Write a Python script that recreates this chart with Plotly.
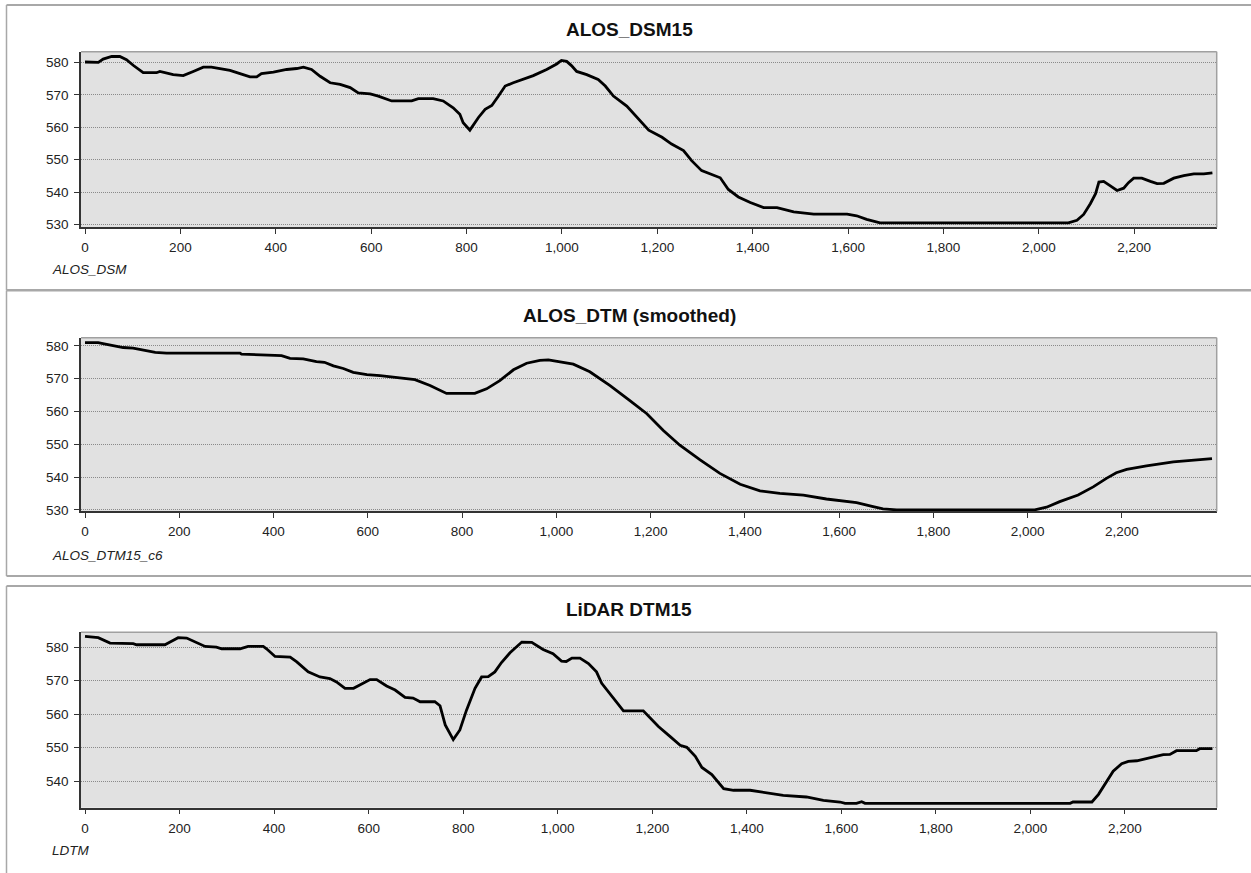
import plotly.graph_objects as go

W, H = 1251, 873

# ---------------- data ----------------
dsm_x = [0, 28, 38, 56, 73, 87, 101, 122, 150, 157, 185, 206, 227, 248, 265, 283, 304, 325, 346, 360,
         370, 395, 423, 444, 458, 475, 493, 514, 535, 556, 573, 598, 615, 643, 685, 699, 730, 751, 772,
         786, 793, 807, 825, 839, 853, 867, 881, 898, 919, 940, 968, 989, 999, 1010, 1020, 1031, 1052,
         1076, 1091, 1108, 1136, 1154, 1182, 1210, 1230, 1255, 1272, 1293, 1311, 1332, 1349, 1370, 1395,
         1423, 1451, 1486, 1528, 1598, 1618, 1639, 1667, 2062, 2080, 2094, 2108, 2119, 2126, 2136, 2150,
         2164, 2178, 2188, 2199, 2216, 2234, 2248, 2262, 2283, 2304, 2325, 2346, 2364]
dsm_y = [580.1, 580.0, 581.0, 581.8, 581.8, 580.8, 579.1, 576.8, 576.8, 577.2, 576.2, 575.9, 577.2, 578.5,
         578.5, 578.1, 577.5, 576.5, 575.5, 575.5, 576.5, 577.0, 577.8, 578.1, 578.5, 577.8, 575.7, 573.7,
         573.2, 572.2, 570.6, 570.3, 569.6, 568.1, 568.1, 568.8, 568.8, 568.1, 566.0, 564.0, 561.4, 559.1,
         563.0, 565.5, 566.7, 569.6, 572.7, 573.7, 574.7, 575.9, 577.8, 579.5, 580.6, 580.3, 579.0, 577.2,
         576.2, 574.7, 572.7, 569.6, 566.5, 563.5, 559.1, 556.9, 554.8, 552.8, 549.7, 546.6, 545.6, 544.4,
         540.8, 538.5, 536.8, 535.2, 535.2, 533.9, 533.2, 533.2, 532.7, 531.6, 530.5, 530.5, 531.3, 533.1,
         536.4, 539.5, 543.1, 543.3, 541.9, 540.5, 541.2, 542.9, 544.3, 544.3, 543.3, 542.6, 542.7, 544.3,
         545.1, 545.6, 545.6, 545.9]

dtm_x = [0, 28, 38, 60, 81, 102, 124, 149, 173, 329, 332, 371, 417, 435, 463, 491, 508, 527, 548, 569,
         598, 626, 661, 682, 700, 732, 767, 827, 852, 880, 909, 937, 965, 983, 1015, 1036, 1071, 1114,
         1156, 1192, 1227, 1262, 1305, 1347, 1390, 1432, 1474, 1524, 1573, 1602, 1637, 1672, 1693, 1722,
         2015, 2040, 2068, 2107, 2139, 2167, 2188, 2210, 2252, 2309, 2351, 2391]
dtm_y = [581.0, 581.0, 580.7, 580.0, 579.5, 579.3, 578.7, 578.0, 577.8, 577.8, 577.5, 577.3, 577.0, 576.2,
         576.0, 575.2, 575.0, 573.9, 573.1, 571.9, 571.2, 570.9, 570.4, 569.9, 569.7, 567.9, 565.5, 565.5,
         566.9, 569.4, 572.7, 574.7, 575.6, 575.7, 574.9, 574.4, 572.1, 567.9, 563.3, 559.3, 554.2, 549.7,
         545.2, 541.1, 537.8, 535.8, 535.0, 534.5, 533.3, 532.7, 532.2, 531.0, 530.3, 530.0, 530.0, 530.8,
         532.5, 534.5, 537.0, 539.6, 541.3, 542.3, 543.4, 544.6, 545.1, 545.6]

ldtm_x = [0, 11, 28, 53, 102, 109, 169, 180, 197, 215, 229, 254, 278, 289, 328, 345, 377, 384, 402, 434,
          448, 472, 497, 518, 532, 550, 568, 589, 603, 617, 638, 656, 677, 694, 709, 740, 751, 762, 779,
          793, 807, 825, 839, 853, 867, 881, 899, 924, 945, 969, 990, 1008, 1018, 1030, 1047, 1065, 1082,
          1093, 1118, 1139, 1181, 1213, 1238, 1259, 1273, 1291, 1305, 1326, 1351, 1372, 1407, 1442, 1477,
          1526, 1562, 1597, 1608, 1632, 1643, 1650, 2084, 2090, 2130, 2144, 2161, 2175, 2193, 2207, 2225,
          2253, 2281, 2295, 2309, 2351, 2358, 2385]
ldtm_y = [583.2, 583.0, 582.8, 581.2, 581.0, 580.7, 580.7, 581.5, 582.8, 582.7, 581.8, 580.2, 580.0, 579.5,
          579.5, 580.2, 580.2, 579.5, 577.2, 577.0, 575.6, 572.6, 571.1, 570.6, 569.6, 567.7, 567.7, 569.2,
          570.3, 570.3, 568.4, 567.2, 565.0, 564.8, 563.7, 563.7, 562.5, 556.8, 552.4, 555.3, 561.2, 567.7,
          571.1, 571.2, 572.6, 575.4, 578.3, 581.5, 581.4, 579.3, 578.0, 575.8, 575.7, 576.7, 576.7, 575.1,
          572.6, 569.2, 564.7, 561.0, 561.0, 556.3, 553.3, 550.7, 550.1, 547.4, 544.1, 542.0, 537.8, 537.3,
          537.3, 536.6, 535.8, 535.3, 534.3, 533.8, 533.4, 533.4, 533.9, 533.4, 533.4, 533.8, 533.8, 536.1,
          540.0, 543.0, 545.2, 545.9, 546.1, 547.1, 547.9, 548.0, 549.1, 549.1, 549.7, 549.7]

titles = ["ALOS_DSM15", "ALOS_DTM (smoothed)", "LiDAR DTM15"]
field_names = ["ALOS_DSM", "ALOS_DTM15_c6", "LDTM"]
x_ticks = [0, 200, 400, 600, 800, 1000, 1200, 1400, 1600, 1800, 2000, 2200]
y_ticks_12 = [530, 540, 550, 560, 570, 580]
y_ticks_3 = [540, 550, 560, 570, 580]

# ---------------- layout geometry (pixels) ----------------
def px_x(p):
    return p / W

def px_y(p):
    return 1 - p / H

plot_l, plot_r = 81, 1216.7
panels = [
    dict(top=52, bot=229, xr=[-8.4, 2373], yr=[529.1, 583.3], yt=y_ticks_12,
         title_y=30, label_y=271),
    dict(top=340, bot=515, xr=[-8.5, 2401], yr=[529.5, 582.5], yt=y_ticks_12,
         title_y=318, label_y=559),
    dict(top=636.7, bot=813.3, xr=[-8.5, 2394], yr=[532.1, 584.4], yt=y_ticks_3,
         title_y=614, label_y=856),
]
series = [(dsm_x, dsm_y), (dtm_x, dtm_y), (ldtm_x, ldtm_y)]

fig = go.Figure()
layout = dict(
    width=W, height=H, margin=dict(l=0, r=0, t=0, b=0),
    paper_bgcolor="white", plot_bgcolor="#e1e1e1", showlegend=False,
    font=dict(family="Liberation Sans, Arial, sans-serif", color="#222222"),
)
shapes = []
annotations = []
tick_font = dict(family="Liberation Sans, Arial, sans-serif", size=13.5, color="#222222")

for i, (p, (sx, sy)) in enumerate(zip(panels, series)):
    n = "" if i == 0 else str(i + 1)
    fig.add_trace(go.Scatter(x=sx, y=sy, mode="lines", xaxis="x" + n, yaxis="y" + n,
                             line=dict(color="black", width=2.8), hoverinfo="skip"))
    layout["xaxis" + n] = dict(
        domain=[px_x(plot_l), px_x(plot_r)], anchor="y" + n, range=p["xr"],
        tickvals=x_ticks, tickformat=",d", ticks="outside", ticklen=5, tickcolor="#333",
        showline=True, linecolor="#333", linewidth=1.5, showgrid=False, zeroline=False,
        tickfont=tick_font, ticklabelstandoff=2,
    )
    layout["yaxis" + n] = dict(
        domain=[px_y(p["bot"]), px_y(p["top"])], anchor="x" + n, range=p["yr"],
        tickvals=p["yt"], ticks="outside", ticklen=5, tickcolor="#333",
        showline=True, linecolor="#333", linewidth=1.5, showgrid=True,
        gridcolor="#8a8a8a", griddash="1px,1px", gridwidth=1, zeroline=False,
        tickfont=tick_font, ticklabelstandoff=3,
    )
    # plot-area top/right border (light gray)
    shapes.append(dict(type="line", xref="paper", yref="paper",
                       x0=px_x(plot_l), x1=px_x(plot_r), y0=px_y(p["top"]), y1=px_y(p["top"]),
                       line=dict(color="#a0a0a0", width=1.5)))
    shapes.append(dict(type="line", xref="paper", yref="paper",
                       x0=px_x(plot_r), x1=px_x(plot_r), y0=px_y(p["top"]), y1=px_y(p["bot"]),
                       line=dict(color="#a0a0a0", width=1.5)))
    annotations.append(dict(text="<b>%s</b>" % titles[i], xref="paper", yref="paper",
                            x=px_x(629), y=px_y(p["title_y"]), xanchor="center", yanchor="middle",
                            showarrow=False, font=dict(size=19, color="#111111")))
    annotations.append(dict(text="<i>%s</i>" % field_names[i], xref="paper", yref="paper",
                            x=px_x(50), y=px_y(p["label_y"]), xanchor="left", yanchor="middle",
                            showarrow=False, font=dict(size=13.5, color="#222222")))

# outer panel frames
frame_col = "#a8a8a8"
frames = [(5, 292), (292.5, 580), (590, 880)]
for (t, b) in frames:
    shapes.append(dict(type="line", xref="paper", yref="paper", x0=px_x(6.5), x1=1.01,
                       y0=px_y(t), y1=px_y(t), line=dict(color=frame_col, width=2)))
    shapes.append(dict(type="line", xref="paper", yref="paper", x0=px_x(6.5), x1=1.01,
                       y0=px_y(b), y1=px_y(b), line=dict(color=frame_col, width=2)))
    shapes.append(dict(type="line", xref="paper", yref="paper", x0=px_x(6.5), x1=px_x(6.5),
                       y0=px_y(t), y1=px_y(b), line=dict(color=frame_col, width=1.5)))

layout["shapes"] = shapes
layout["annotations"] = annotations
fig.update_layout(**layout)
fig.write_html("out.html", config={"displayModeBar": False},
               post_script="document.body.style.margin='0';document.body.style.overflow='hidden';")
